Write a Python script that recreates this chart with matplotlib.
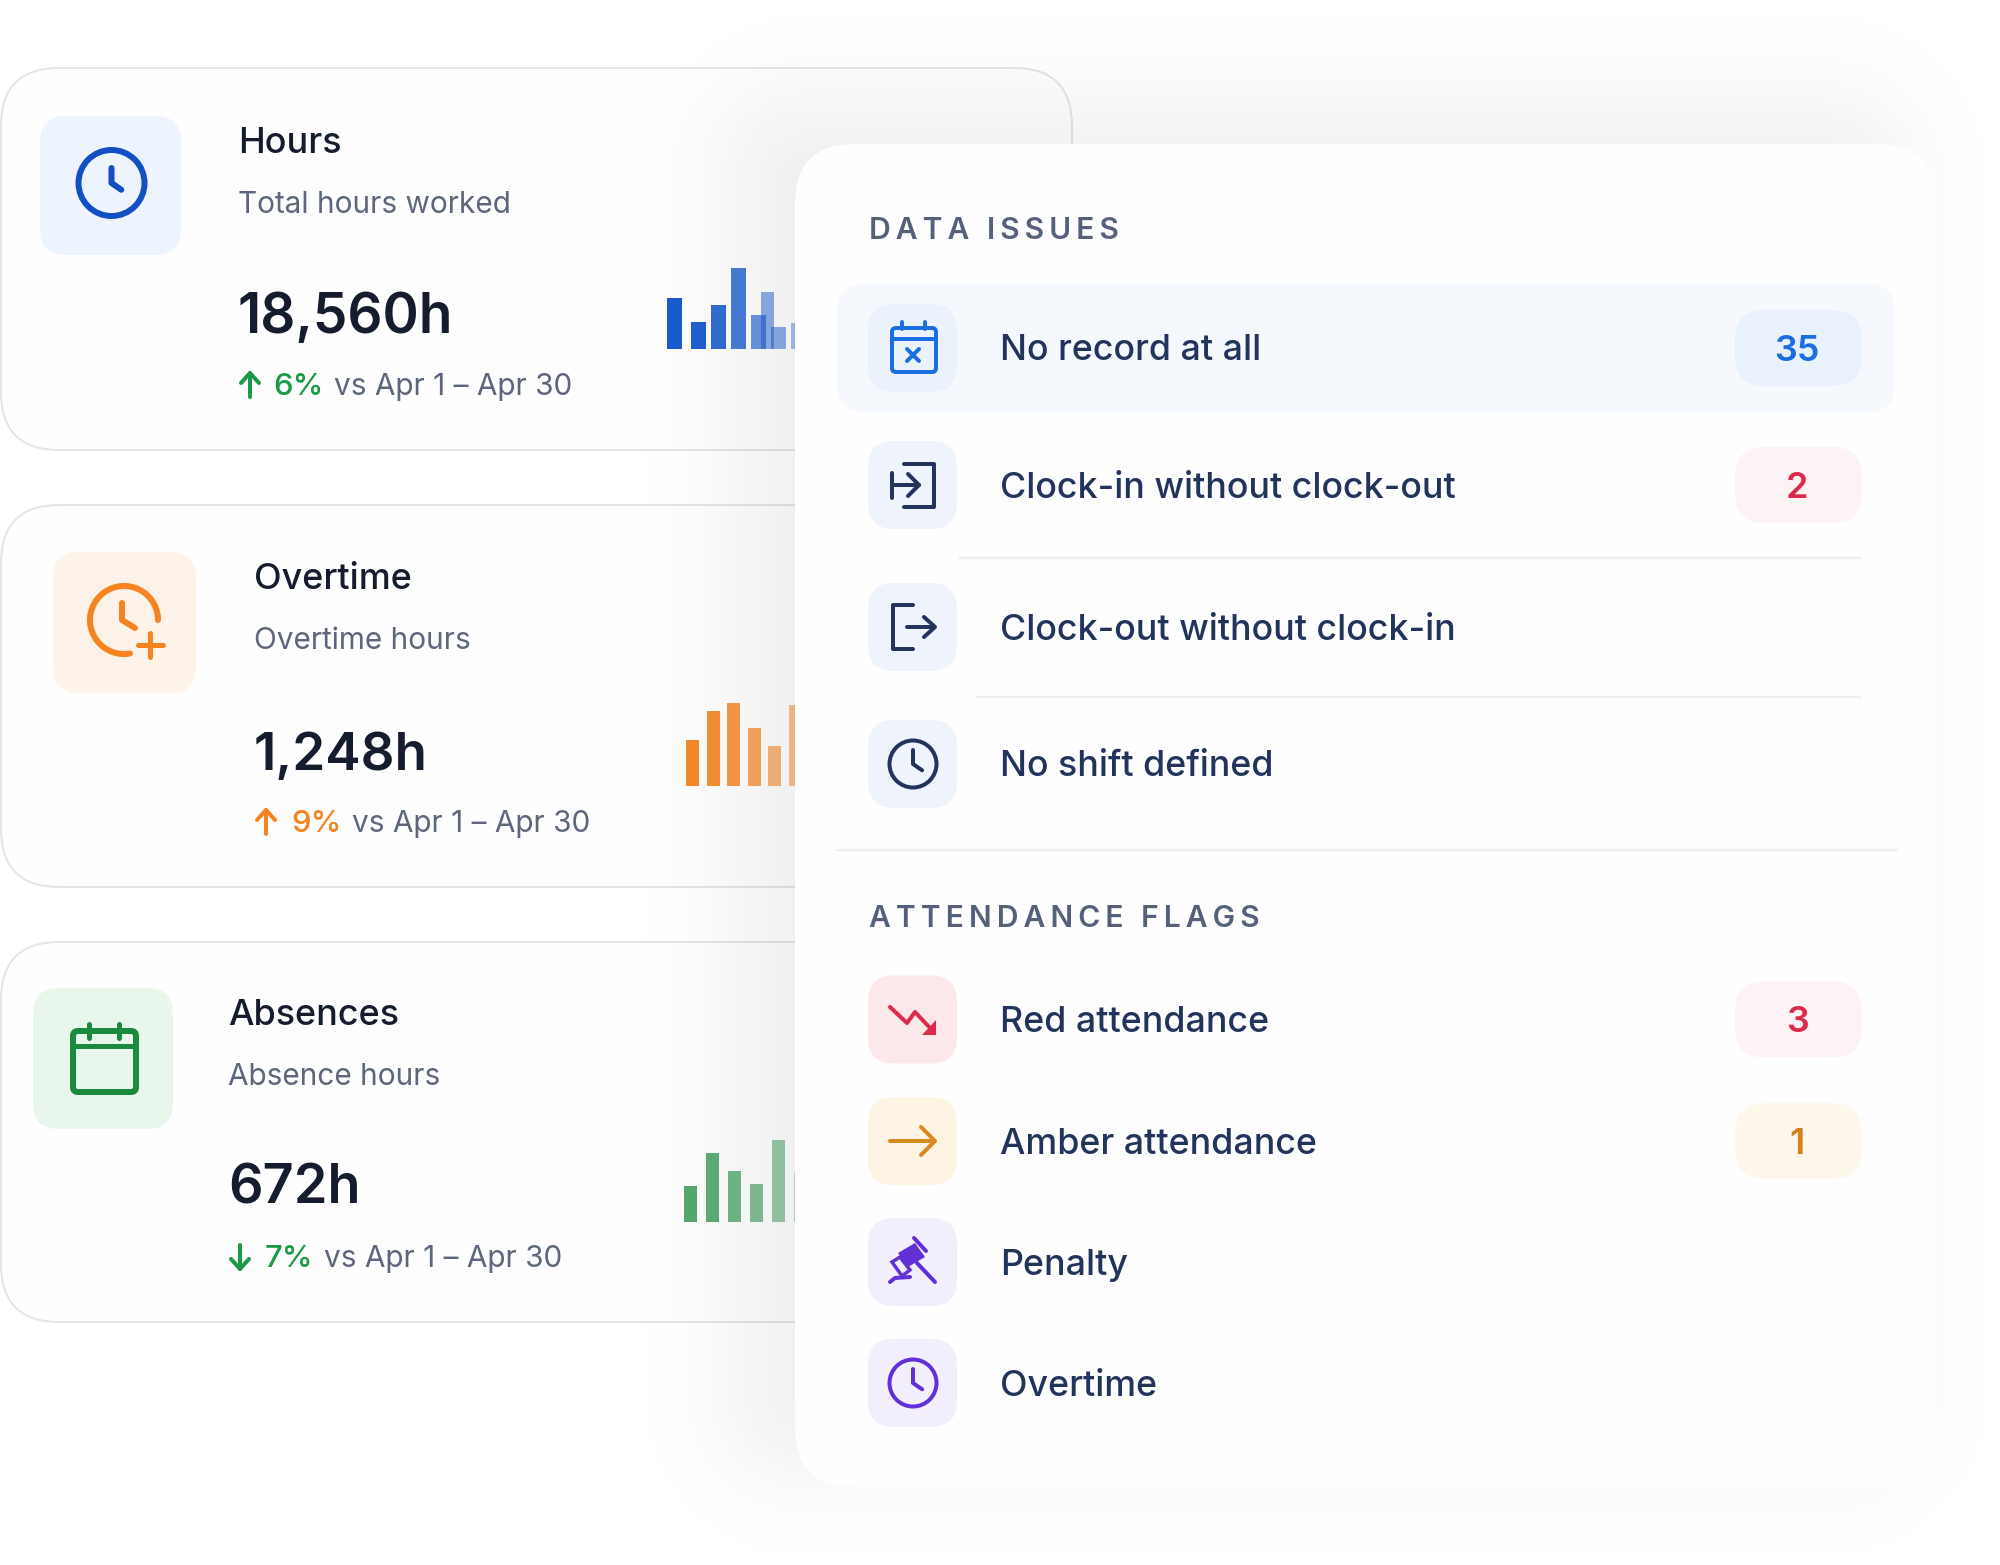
"""
Attendance overview cards with a data issues panel on top
"""
import matplotlib.pyplot as plt
import numpy as np
from matplotlib.patches import Circle, FancyBboxPatch, Polygon

plt.rcParams["font.family"] = ["Inter", "DejaVu Sans"]

CARD_TITLES = ["Hours", "Overtime", "Absences"]
CARD_SUBTITLES = ["Total hours worked", "Overtime hours", "Absence hours"]
CARD_VALUES = ["18,560h", "1,248h", "672h"]
CARD_DELTAS = ["6%", "9%", "7%"]
COMPARE_LABEL = "vs Apr 1 – Apr 30"

HOURS_BARS = [51, 27, 44, 81, 34, 22, 26]
HOURS_GHOST_BAR = 57
OVERTIME_BARS = [46, 75, 83, 58, 40, 81]
ABSENCE_BARS = [36, 69, 51, 38, 82, 49]

ISSUES_TITLE = "DATA ISSUES"
ISSUE_LABELS = [
    "No record at all",
    "Clock-in without clock-out",
    "Clock-out without clock-in",
    "No shift defined",
]
ISSUE_COUNTS = [35, 2, None, None]
FLAGS_TITLE = "ATTENDANCE FLAGS"
FLAG_LABELS = ["Red attendance", "Amber attendance", "Penalty", "Overtime"]
FLAG_COUNTS = [3, 1, None, None]

NAVY = "#22335c"
GREY = "#5d667b"
INK = "#151c2e"
GREEN = "#1b9a45"
ORANGE = "#f5831f"
BLUE = "#1a6fe3"
PURPLE = "#6130d8"
RED = "#dc2a4c"
AMBER = "#d4821a"

fig = plt.figure(figsize=(20, 15.65), dpi=100, facecolor="white")
ax = fig.add_axes([0, 0, 1, 1])
ax.set_xlim(0, 2000)
ax.set_ylim(1565, 0)
ax.axis("off")


def rbox(x0, y0, x1, y1, r, fc, ec="none", lw=0, z=1):
    ax.add_patch(
        FancyBboxPatch(
            (x0, y0),
            x1 - x0,
            y1 - y0,
            boxstyle=f"round,pad=0,rounding_size={r}",
            fc=fc,
            ec=ec,
            lw=lw * 0.72,
            zorder=z,
        )
    )


def txt(x, y, s, px, color, weight="normal", ha="left", z=3):
    ax.text(
        x, y, s, fontsize=px * 0.72, color=color, fontweight=weight,
        ha=ha, va="baseline", zorder=z,
    )


def stroke(xs, ys, color, lw=4, z=3):
    ax.plot(
        xs, ys, color=color, lw=lw * 0.72, zorder=z,
        solid_capstyle="round", solid_joinstyle="round",
    )


def clock(cx, cy, r, color, lw=4, hand=14, z=8):
    ax.add_patch(Circle((cx, cy), r, fc="none", ec=color, lw=lw * 0.72, zorder=z))
    stroke([cx, cx, cx + hand * 0.65], [cy - hand, cy, cy + hand * 0.45], color, lw, z)


def mini_bars(heights, starts, base, width, color, alphas):
    ax.bar(
        starts, [-h for h in heights], width=width, bottom=base, align="edge",
        color=color, zorder=2,
    )
    for patch, a in zip(ax.patches[-len(heights):], alphas):
        patch.set_alpha(a)


# left cards
for top, bottom in [(68, 450), (505, 887), (942, 1322)]:
    rbox(1, top, 1072, bottom, 58, "#fefefe", "#e4e5e8", 2)

rbox(40, 116, 181, 255, 26, "#eef4fd", z=2)
clock(111.5, 183, 33, "#1150c4", lw=6, hand=15, z=3)
rbox(53, 552, 196, 693, 26, "#fdf3e9", z=2)
t = np.radians(np.linspace(0, 280, 90))
stroke(124 + 34 * np.cos(t), 620 - 34 * np.sin(t), ORANGE, 6)
stroke([122, 122, 135], [603, 620, 628], ORANGE, 6)
stroke([150, 150], [633, 657], ORANGE, 5)
stroke([138, 163], [645, 645], ORANGE, 5)
rbox(33, 988, 173, 1129, 26, "#e9f6ec", z=2)
rbox(73, 1031, 136, 1092, 5, "none", "#1a8a3e", 6, z=3)
stroke([73, 136], [1046, 1046], "#1a8a3e", 5)
stroke([89, 89], [1024, 1038], "#1a8a3e", 5)
stroke([119, 119], [1024, 1038], "#1a8a3e", 5)

card_x = [238, 254, 228]
title_y = [153, 589, 1025]
sub_y = [213, 649, 1085]
value_y = [333, 770, 1204]
value_px = [55, 53, 54]
delta_y = [395, 832, 1267]
delta_dx = [35.5, 37.5, 36.5]
compare_dx = [95.5, 98.5, 96.5]
delta_cols = [GREEN, ORANGE, GREEN]
for i, x in enumerate(card_x):
    txt(x, title_y[i], CARD_TITLES[i], 36, INK, "medium")
    txt(x, sub_y[i], CARD_SUBTITLES[i], 29.8, GREY)
    txt(x, value_y[i], CARD_VALUES[i], value_px[i], INK, "semibold")
    txt(x + delta_dx[i], delta_y[i], CARD_DELTAS[i], 31, delta_cols[i], "medium")
    txt(x + compare_dx[i], delta_y[i], COMPARE_LABEL, 29.8, GREY)
    cx = x + 12
    stroke([cx, cx], [delta_y[i] - 22, delta_y[i] + 2], delta_cols[i], 4)
    if i < 2:
        stroke([cx - 9, cx, cx + 9], [delta_y[i] - 12, delta_y[i] - 22, delta_y[i] - 12], delta_cols[i], 4)
    else:
        stroke([cx - 9, cx, cx + 9], [delta_y[i] - 8, delta_y[i] + 2, delta_y[i] - 8], delta_cols[i], 4)

# mini bar charts, cut off by the panel
hours_x = [667] + [671 + 20 * k for k in range(1, len(HOURS_BARS))]
mini_bars(HOURS_BARS, hours_x, 349, 14.5, "#1a5cd0", [1, 0.98, 0.9, 0.8, 0.65, 0.5, 0.4])
mini_bars([HOURS_GHOST_BAR], [761], 349, 13, "#1a5cd0", [0.5])
mini_bars(
    OVERTIME_BARS, [686 + 20.6 * k for k in range(len(OVERTIME_BARS))],
    786, 13, "#f5831f", [0.95, 0.9, 0.82, 0.7, 0.6, 0.5],
)
mini_bars(
    ABSENCE_BARS, [684 + 22 * k for k in range(len(ABSENCE_BARS))],
    1222, 13, "#1a8a3e", [0.75, 0.7, 0.62, 0.55, 0.45, 0.3],
)

# soft panel shadow, strongest up and to the left
gx, gy = np.meshgrid(np.linspace(0, 2000, 501), np.linspace(0, 1565, 392))
sx0, sy0, sx1, sy1 = 745, 114, 1887, 1457
qx = np.abs(gx - (sx0 + sx1) / 2) - ((sx1 - sx0) / 2 - 60)
qy = np.abs(gy - (sy0 + sy1) / 2) - ((sy1 - sy0) / 2 - 60)
dist = np.hypot(np.maximum(qx, 0), np.maximum(qy, 0)) + np.minimum(np.maximum(qx, qy), 0) - 60
shadow = np.zeros(gx.shape + (4,))
shadow[..., :3] = 0.1
shadow[..., 3] = 0.075 / (1 + np.exp(dist / 35))
ax.imshow(
    shadow, extent=(0, 2000, 1565, 0), aspect="auto", interpolation="bilinear", zorder=5
)
ax.set_xlim(0, 2000)
ax.set_ylim(1565, 0)

# panel
rbox(795, 144, 1937, 1487, 60, "#fefefe", z=6)
rbox(837, 283, 1895, 413, 30, "#f5f9fe", z=7)
for y, x0, x1 in [(558, 960, 1860), (697, 977, 1860), (850, 837, 1897)]:
    ax.plot([x0, x1], [y, y], color="#eeeff1", lw=1.6, zorder=7)

hair = "\u200a\u200a"
txt(869, 239, hair.join(ISSUES_TITLE), 30, "#55607a", "semibold", z=8)
txt(869, 927, hair.join(FLAGS_TITLE), 30, "#55607a", "semibold", z=8)

issue_y = [348, 485, 627, 764]
flag_y = [1019.5, 1141, 1262, 1383]
tile_cols = ["#ecf2fc", "#eff4fc", "#eff4fc", "#eff4fc"]
flag_tiles = ["#fce8ea", "#fef4e4", "#f2eefc", "#f2eefc"]
for labels, ys, tiles in [(ISSUE_LABELS, issue_y, tile_cols), (FLAG_LABELS, flag_y, flag_tiles)]:
    for label, y, fc in zip(labels, ys, tiles):
        rbox(868, y - 44, 957, y + 44, 26, fc, z=7)
        txt(1000, y + 12.5, label, 35.8, NAVY, "medium", z=8)

chip_cols = {35: ("#e8f1fc", BLUE), 2: ("#fdf2f4", RED), 3: ("#fdf2f5", RED), 1: ("#fef8ec", AMBER)}
for counts, ys in [(ISSUE_COUNTS, issue_y), (FLAG_COUNTS, flag_y)]:
    for count, y in zip(counts, ys):
        if count is None:
            continue
        fc, tc = chip_cols[count]
        rbox(1735, y - 38, 1862, y + 38, 30, fc, z=7)
        txt(1797, y + 13, str(count), 36, tc, "semibold", ha="center", z=8)

# panel icons
rbox(892, 328, 936, 372, 4, "none", BLUE, 4, z=8)
stroke([892, 936], [339, 339], BLUE, 4, 8)
stroke([902, 902], [322, 329], BLUE, 4, 8)
stroke([925, 925], [322, 329], BLUE, 4, 8)
stroke([907, 919], [349, 361], BLUE, 4, 8)
stroke([919, 907], [349, 361], BLUE, 4, 8)

stroke([904, 934, 934, 904], [464, 464, 507, 507], NAVY, 4, 8)
stroke([892, 892], [473, 498], NAVY, 4, 8)
stroke([892, 919], [485, 485], NAVY, 4, 8)
stroke([908, 919, 908], [474, 485, 496], NAVY, 4, 8)

stroke([913, 893, 893, 913], [605, 605, 649, 649], NAVY, 4, 8)
stroke([907, 934], [627, 627], NAVY, 4, 8)
stroke([924, 935, 924], [617, 627, 637], NAVY, 4, 8)

clock(913, 764, 23.5, NAVY)

stroke([890, 907, 915, 932], [1007, 1023, 1012, 1030], RED, 4, 8)
ax.add_patch(Polygon([(936, 1035), (922, 1035), (936, 1020)], fc=RED, zorder=8))

stroke([890, 934], [1141, 1141], "#d98a1f", 4, 8)
stroke([921, 935, 921], [1127, 1141, 1155], "#d98a1f", 4, 8)

ax.add_patch(Polygon([(898, 1253), (915, 1243), (925, 1257), (908, 1267)], fc=PURPLE, zorder=8))
ax.add_patch(Polygon([(892, 1262), (900, 1257), (910, 1270), (902, 1276)], fc="none", ec=PURPLE, lw=2.5, zorder=8))
stroke([914, 926], [1238, 1251], PURPLE, 4, 8)
stroke([917, 935], [1263, 1282], PURPLE, 4, 8)
stroke([890, 895, 910], [1282, 1278, 1277], PURPLE, 4, 8)

clock(913, 1383, 23.5, PURPLE)

plt.savefig("out.png", dpi=100)
